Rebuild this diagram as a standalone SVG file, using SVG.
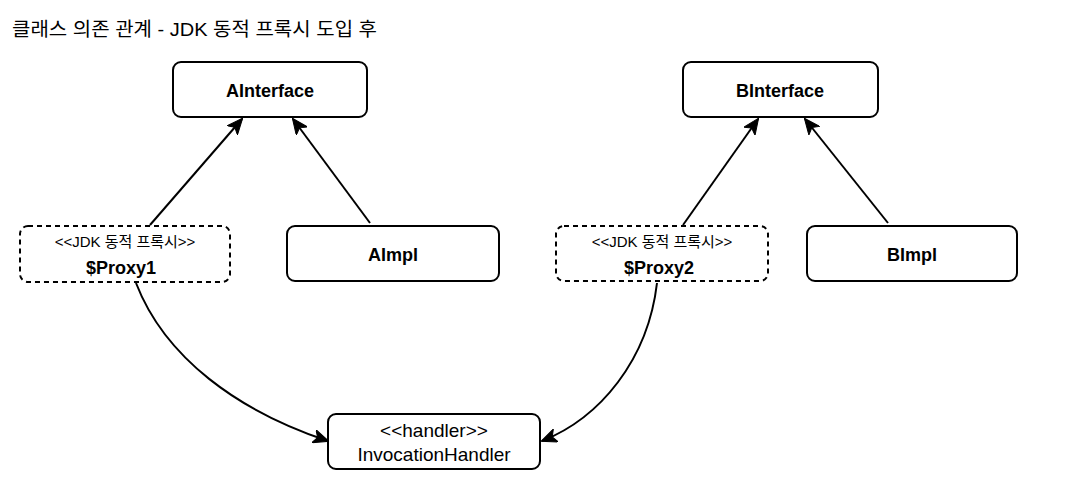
<svg xmlns="http://www.w3.org/2000/svg" width="1068" height="502" viewBox="0 0 1068 502">
<style>
  text { font-family: "Liberation Sans", "Noto Sans CJK KR", sans-serif; fill: #000; }
  .box { fill: #fff; stroke: #000; stroke-width: 2; }
  .dash { fill: #fff; stroke: #000; stroke-width: 2; stroke-dasharray: 5 4; }
  .name { font-size: 18px; font-weight: bold; text-anchor: middle; }
  .stereo { font-size: 15px; text-anchor: middle; }
  .reg { font-size: 19px; text-anchor: middle; }
  .edge { fill: none; stroke: #000; stroke-width: 2; marker-end: url(#arr); }
</style>
<defs>
  <marker id="arr" viewBox="0 0 16 14" refX="15" refY="7" markerWidth="16" markerHeight="14" orient="auto" markerUnits="userSpaceOnUse">
    <path d="M0,0 L16,7 L0,14 L4,7 z" fill="#000" stroke="#000" stroke-width="1"/>
  </marker>
</defs>
<rect width="1068" height="502" fill="#fff"/>
<text id="title" x="12" y="36" font-size="19" textLength="365" lengthAdjust="spacingAndGlyphs">클래스 의존 관계 - JDK 동적 프록시 도입 후</text>

<g id="connectors">
  <path class="edge" d="M150,225 L242,119"/>
  <path class="edge" d="M370,223 L293,119"/>
  <path class="edge" d="M683,225 L758,119"/>
  <path class="edge" d="M888,223 L805,119"/>
  <path class="edge" d="M136,283 C165,358 238,411 328,441"/>
  <path class="edge" d="M657,283 C648,360 600,418 542,441"/>
</g>

<g id="AInterface">
  <rect class="box" x="173" y="62" width="194" height="55" rx="8"/>
  <text class="name" x="270" y="97">AInterface</text>
</g>
<g id="BInterface">
  <rect class="box" x="683" y="62" width="195" height="55" rx="8"/>
  <text class="name" x="780" y="97">BInterface</text>
</g>
<g id="Proxy1">
  <rect class="dash" x="20" y="226" width="210" height="56" rx="8"/>
  <text class="stereo" x="125" y="247">&lt;&lt;JDK 동적 프록시&gt;&gt;</text>
  <text class="name" x="121" y="274" font-size="17">$Proxy1</text>
</g>
<g id="AImpl">
  <rect class="box" x="287" y="226" width="212" height="55" rx="8"/>
  <text class="name" x="393" y="261">AImpl</text>
</g>
<g id="Proxy2">
  <rect class="dash" x="556" y="226" width="212" height="55" rx="8"/>
  <text class="stereo" x="662" y="247">&lt;&lt;JDK 동적 프록시&gt;&gt;</text>
  <text class="name" x="659" y="274">$Proxy2</text>
</g>
<g id="BImpl">
  <rect class="box" x="807" y="226" width="210" height="55" rx="8"/>
  <text class="name" x="912" y="261">BImpl</text>
</g>
<g id="InvocationHandler">
  <rect class="box" x="328" y="414" width="212" height="55" rx="8"/>
  <text class="reg" x="434" y="437">&lt;&lt;handler&gt;&gt;</text>
  <text class="reg" x="434" y="461">InvocationHandler</text>
</g>
</svg>
